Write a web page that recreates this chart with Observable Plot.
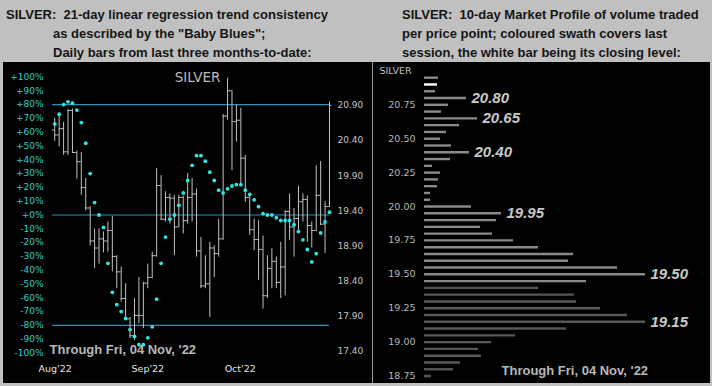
<!DOCTYPE html>
<html><head><meta charset="utf-8">
<script src="https://cdn.jsdelivr.net/npm/d3@7"></script>
<script src="https://cdn.jsdelivr.net/npm/@observablehq/plot@0.6"></script>
<style>
html,body{margin:0;padding:0;background:#c0c0c0;}
#wrap{position:relative;width:712px;height:386px;background:#c0c0c0;overflow:hidden;}
.t{position:absolute;font-family:"Liberation Sans",Arial,sans-serif;font-weight:bold;font-size:13px;color:#151515;white-space:pre;line-height:15px;}
#left,#right{position:absolute;top:62px;height:321px;background:#000;}
#left{left:3px;width:365px;}
#right{left:368px;width:342px;}
#sep{position:absolute;left:4px;top:0;width:1px;height:321px;background:#9a9a9a;}
svg{display:block;}
</style></head><body>
<div id="wrap">
<div class="t" style="left:6px;top:7px">SILVER:  21-day linear regression trend consistency</div>
<div class="t" style="left:53px;top:26px">as described by the "Baby Blues";</div>
<div class="t" style="left:53px;top:45px">Daily bars from last three months-to-date:</div>
<div class="t" style="left:402px;top:7px">SILVER:  10-day Market Profile of volume traded</div>
<div class="t" style="left:402px;top:26px">per price point; coloured swath covers last</div>
<div class="t" style="left:402px;top:45px">session, the white bar being its closing level:</div>
<div id="left"></div>
<div id="right"><div id="sep"></div></div>
</div>
<script>
// ---- Daily bars (Aug'22 .. 04 Nov'22) ----
const opens  = [20.55,20.48,20.57,20.24,20.83,20.23,20.10,19.73,19.44,18.97,18.87,19.00,18.97,19.12,18.75,18.53,18.15,17.86,17.62,17.91,17.91,18.37,18.45,18.76,19.76,19.28,19.59,19.58,19.17,19.59,19.26,19.59,19.64,18.83,18.33,18.36,18.87,18.79,19.00,20.75,21.11,20.67,20.69,20.15,19.59,19.13,18.99,18.85,18.19,18.58,18.68,18.38,18.60,19.39,19.17,19.29,19.53,19.56,19.19,19.12,19.62,19.21,19.46];
const highs  = [20.72,20.79,20.66,20.84,20.85,20.25,20.23,19.86,19.46,19.14,19.14,19.10,19.24,19.32,18.76,18.60,18.36,17.88,18.15,18.45,18.38,18.64,18.81,20.00,19.90,19.67,19.64,19.62,19.62,19.61,19.93,19.86,19.71,19.02,18.76,18.95,18.90,19.28,20.77,21.29,21.11,20.90,20.86,20.19,19.64,19.28,19.26,19.04,18.76,18.86,18.74,18.95,19.40,19.64,19.43,19.75,19.64,19.61,19.24,20.04,20.10,19.53,20.95];
const lows   = [20.39,20.31,20.19,20.19,20.23,19.85,19.62,19.40,18.90,18.58,18.64,18.80,18.81,18.53,18.29,18.10,17.84,17.58,17.55,17.79,17.72,18.29,18.43,18.74,19.26,19.24,19.21,18.76,19.16,19.07,19.21,19.24,18.74,18.29,18.29,17.88,18.45,18.74,18.98,20.69,19.97,20.38,19.76,19.52,19.05,18.83,18.41,18.00,18.15,18.29,18.29,18.15,18.19,18.98,18.74,19.10,19.24,18.95,18.87,19.10,19.19,18.79,19.45];
const closes = [20.48,20.57,20.24,20.83,20.23,20.10,19.73,19.44,18.97,18.87,19.00,18.97,19.12,18.75,18.53,18.15,17.86,17.62,17.91,17.91,18.37,18.45,18.76,19.76,19.28,19.59,19.58,19.17,19.59,19.26,19.59,19.64,18.83,18.33,18.36,18.87,18.79,19.00,20.75,21.11,20.67,20.69,20.15,19.59,19.13,18.99,18.85,18.19,18.58,18.68,18.38,18.60,19.39,19.17,19.29,19.53,19.56,19.19,19.12,19.62,19.21,19.46,20.90];
// ---- "Baby Blues" trend consistency (%) ----
const babyBlues = [66,73,80,82,81,76,67,52,30,9,0,-9,-35,-56,-65,-70,-75,-83,-88,-94,-94,-89,-81,-61,-35,-16,-3,0,7,16,25,36,43,43,39,31,25,18,16,19,21,22,22,18,15,11,6,1,0,0,-2,-4,-4,-4,-7,-12,-18,-25,-34,-28,-13,-5,2];
// ---- axes / labels ----
const pctTicks = [100,90,80,70,60,50,40,30,20,10,0,-10,-20,-30,-40,-50,-60,-70,-80,-90,-100];
const pctLevels = [80, 0, -80];
const priceTicks = [20.90, 20.40, 19.90, 19.40, 18.90, 18.40, 17.90, 17.40];
const pctRange = [-100, 100];          // left axis extent
const priceRange = [17.374, 21.306];   // right axis value at the same extent
const monthNames = ["Aug'22", "Sep'22", "Oct'22"];
const monthStartBar = [-4, 17, 38];
const symbol = "SILVER";
const throughText = "Through Fri, 04 Nov, '22";
// ---- 10-day market profile ----
const profilePrices  = [20.95,20.90,20.85,20.80,20.75,20.70,20.65,20.60,20.55,20.50,20.45,20.40,20.35,20.30,20.25,20.20,20.15,20.10,20.05,20.00,19.95,19.90,19.85,19.80,19.75,19.70,19.65,19.60,19.55,19.50,19.45,19.40,19.35,19.30,19.25,19.20,19.15,19.10,19.05,19.00,18.95,18.90,18.85,18.80,18.75];
const profileVolumes = [14,13,11,42,24,17,53,35,22,16,27,45,26,8,16,14,13,6,6,47,77,72,56,68,89,114,149,144,193,221,162,114,150,152,176,203,221,142,91,67,54,57,36,29,7];
const profileTicks = [20.75, 20.50, 20.25, 20.00, 19.75, 19.50, 19.25, 19.00, 18.75];
const profilePeaks = [20.80, 20.65, 20.40, 19.95, 19.50, 19.15];

// ================= left panel =================
const bars = opens.map((o, i) => ({i, open: o, high: highs[i], low: lows[i], close: closes[i]}));
const blues = babyBlues.map((v, i) => ({i, v}));
const months = monthNames.map((m, k) => ({i: monthStartBar[k], m}));
const P = d3.scaleLinear().domain(priceRange).range(pctRange);
const barColor = "#c2c2c2";

const left = Plot.plot({
  width: 365, height: 321,
  marginLeft: 49, marginRight: 39, marginTop: 14.5, marginBottom: 30.5,
  style: {background: "transparent", color: "#cccccc", fontFamily: "'DejaVu Sans', sans-serif", fontSize: "9px", overflow: "visible"},
  x: {domain: [-0.5, 62], axis: null},
  y: {domain: pctRange},
  marks: [
    Plot.ruleY(pctLevels, {stroke: "#2b94b8", strokeWidth: 1.2}),
    Plot.axisY(pctTicks, {anchor: "left", tickSize: 0, tickPadding: 9, label: null,
      tickFormat: d => (d >= 0 ? "+" : "") + d + "%", fill: "#33cccc", fontSize: 9}),
    Plot.axisY(priceTicks.map(P), {anchor: "right", tickSize: 0, tickPadding: 8, label: null,
      tickFormat: d => P.invert(d).toFixed(2), fill: "#c4c4c4", fontSize: 9}),
    Plot.ruleX(bars, {x: "i", y1: d => P(d.low), y2: d => P(d.high), stroke: barColor}),
    Plot.ruleY(bars, {y: d => P(d.open), x1: d => d.i - 0.5, x2: "i", stroke: barColor}),
    Plot.ruleY(bars, {y: d => P(d.close), x1: "i", x2: d => d.i + 0.5, stroke: barColor}),
    Plot.dot(blues, {x: "i", y: "v", r: 1.9, fill: "#2ee6e6"}),
    Plot.text([symbol], {frameAnchor: "top", lineAnchor: "middle", dx: 6.5, dy: 0.5, fill: "#bcbcbc", fontSize: 13.5}),
    Plot.text([throughText], {frameAnchor: "bottom-left", textAnchor: "start", lineAnchor: "middle", dx: -3, dy: -3.5,
      fill: "#b8b8b8", fontWeight: "bold", fontSize: 13, fontFamily: "'Liberation Sans', Arial, sans-serif"}),
    Plot.text(months, {x: "i", text: "m", frameAnchor: "bottom", textAnchor: "start", lineAnchor: "middle", dx: 1.5, dy: 15.5,
      fill: "#e6e6e6", fontSize: 9.5})
  ]
});
document.getElementById("left").appendChild(left);

// ================= right panel =================
const key = v => Math.round(v * 100);
const profile = profilePrices.map((p, k) => ({price: p, vol: profileVolumes[k]}));
const last = bars[bars.length - 1];
const colorOf = d => key(d.price) === key(last.close) ? "#ffffff"
  : (key(d.price) >= key(last.low) && key(d.price) <= key(last.high) ? "#8a8a8a" : "#575757");

const right = Plot.plot({
  width: 342, height: 321,
  marginLeft: 56, marginRight: 6, marginTop: 8, marginBottom: 3,
  style: {background: "transparent", color: "#b4b4b4", fontFamily: "'DejaVu Sans', sans-serif", fontSize: "9.5px", overflow: "visible"},
  x: {domain: [0, 280], axis: null},
  y: {domain: [18.717, 21.003]},
  color: {type: "identity"},
  marks: [
    Plot.axisY(profileTicks, {anchor: "left", tickSize: 0, tickPadding: 9, label: null,
      tickFormat: d => d.toFixed(2), fill: "#b8b8b8", fontSize: 9.5}),
    Plot.ruleY(profile, {y: "price", x1: 0, x2: "vol", stroke: colorOf, strokeWidth: 2.4}),
    Plot.text(profile.filter(d => profilePeaks.some(p => key(p) === key(d.price))), {
      x: "vol", y: "price", text: d => d.price.toFixed(2), dx: 5, textAnchor: "start", lineAnchor: "middle",
      fontWeight: "bold", fontStyle: "italic", fontSize: 15, fill: "#c8c8c8", fontFamily: "'Liberation Sans', Arial, sans-serif"}),
    Plot.text([symbol], {frameAnchor: "top-left", textAnchor: "start", lineAnchor: "middle", dx: -45, dy: 0,
      fill: "#c0c0c0", fontSize: 9.5}),
    Plot.text([throughText], {frameAnchor: "bottom-left", textAnchor: "start", lineAnchor: "middle", dx: 77, dy: -10,
      fill: "#b8b8b8", fontWeight: "bold", fontSize: 13, fontFamily: "'Liberation Sans', Arial, sans-serif"})
  ]
});
document.getElementById("right").appendChild(right);
</script>
</body></html>
